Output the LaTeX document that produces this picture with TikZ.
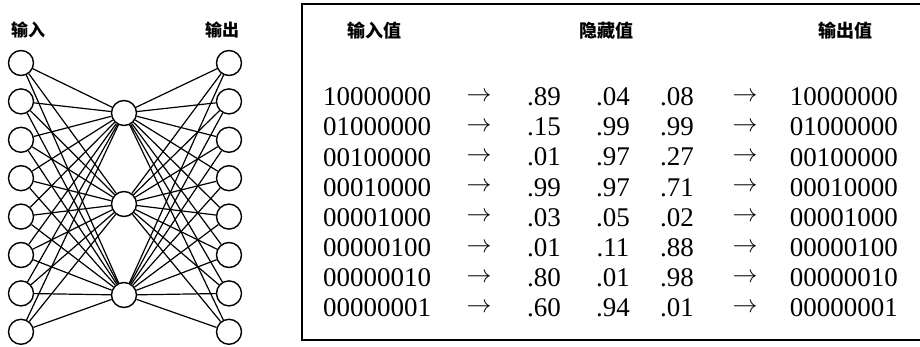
\documentclass[tikz,border=0pt]{standalone}
\usepackage{fontspec}
\setmainfont{Liberation Serif}
\newfontfamily\cjk{Noto Sans CJK SC}
\usetikzlibrary{calc}
\tikzset{
  unit/.style={circle, draw, line width=1.4pt, minimum size=25pt, inner sep=0pt},
  link/.style={line width=1.2pt},
  layer label/.style={font=\cjk\bfseries\fontsize{17}{17}\selectfont},
  col head/.style={font=\cjk\bfseries\fontsize{18}{18}\selectfont},
  cell/.style={font=\fontsize{27}{27}\selectfont, inner sep=0pt},
  table box/.style={draw, line width=1.3pt}
}
\begin{document}
\begin{tikzpicture}[x=1pt, y=-1pt]
\useasboundingbox (0,0) rectangle (920,347);
% network
\foreach \i in {1,...,8}
  \node[unit] (in\i) at (21, {63+38.4*(\i-1)}) {};
\foreach \i in {1,...,8}
  \node[unit] (out\i) at (229, {63+38.4*(\i-1)}) {};
\node[unit] (h1) at (124,113) {};
\node[unit] (h2) at (124,204) {};
\node[unit] (h3) at (124,295) {};
\foreach \i in {1,...,8}
  \foreach \j in {1,2,3} {
    \draw[link] (in\i) -- (h\j);
    \draw[link] (h\j) -- (out\i);
  }
\node[layer label] (inlabel) at (28,30) {输入};
\node[layer label] (outlabel) at (222,30) {输出};
% table
\draw[table box] (302,4) rectangle (924,340);
\node[col head] (inhead) at (374,31) {输入值};
\node[col head] (hidhead) at (606,31) {隐藏值};
\node[col head] (outhead) at (845,31) {输出值};
\foreach \a/\b/\c/\d [count=\r] in {10000000/.89/.04/.08, 01000000/.15/.99/.99,
    00100000/.01/.97/.27, 00010000/.99/.97/.71, 00001000/.03/.05/.02,
    00000100/.01/.11/.88, 00000010/.80/.01/.98, 00000001/.60/.94/.01} {
  \node[cell, anchor=west] (x\r) at (323, {97+30.1*(\r-1)}) {\a};
  \node[cell] (ra\r) at (479, {97+30.1*(\r-1)}) {$\rightarrow$};
  \node[cell] (ha\r) at (544, {97+30.1*(\r-1)}) {\b};
  \node[cell] (hb\r) at (613, {97+30.1*(\r-1)}) {\c};
  \node[cell] (hc\r) at (677, {97+30.1*(\r-1)}) {\d};
  \node[cell] (rb\r) at (745, {97+30.1*(\r-1)}) {$\rightarrow$};
  \node[cell, anchor=east] (y\r) at (898, {97+30.1*(\r-1)}) {\a};
}
\end{tikzpicture}
\end{document}
